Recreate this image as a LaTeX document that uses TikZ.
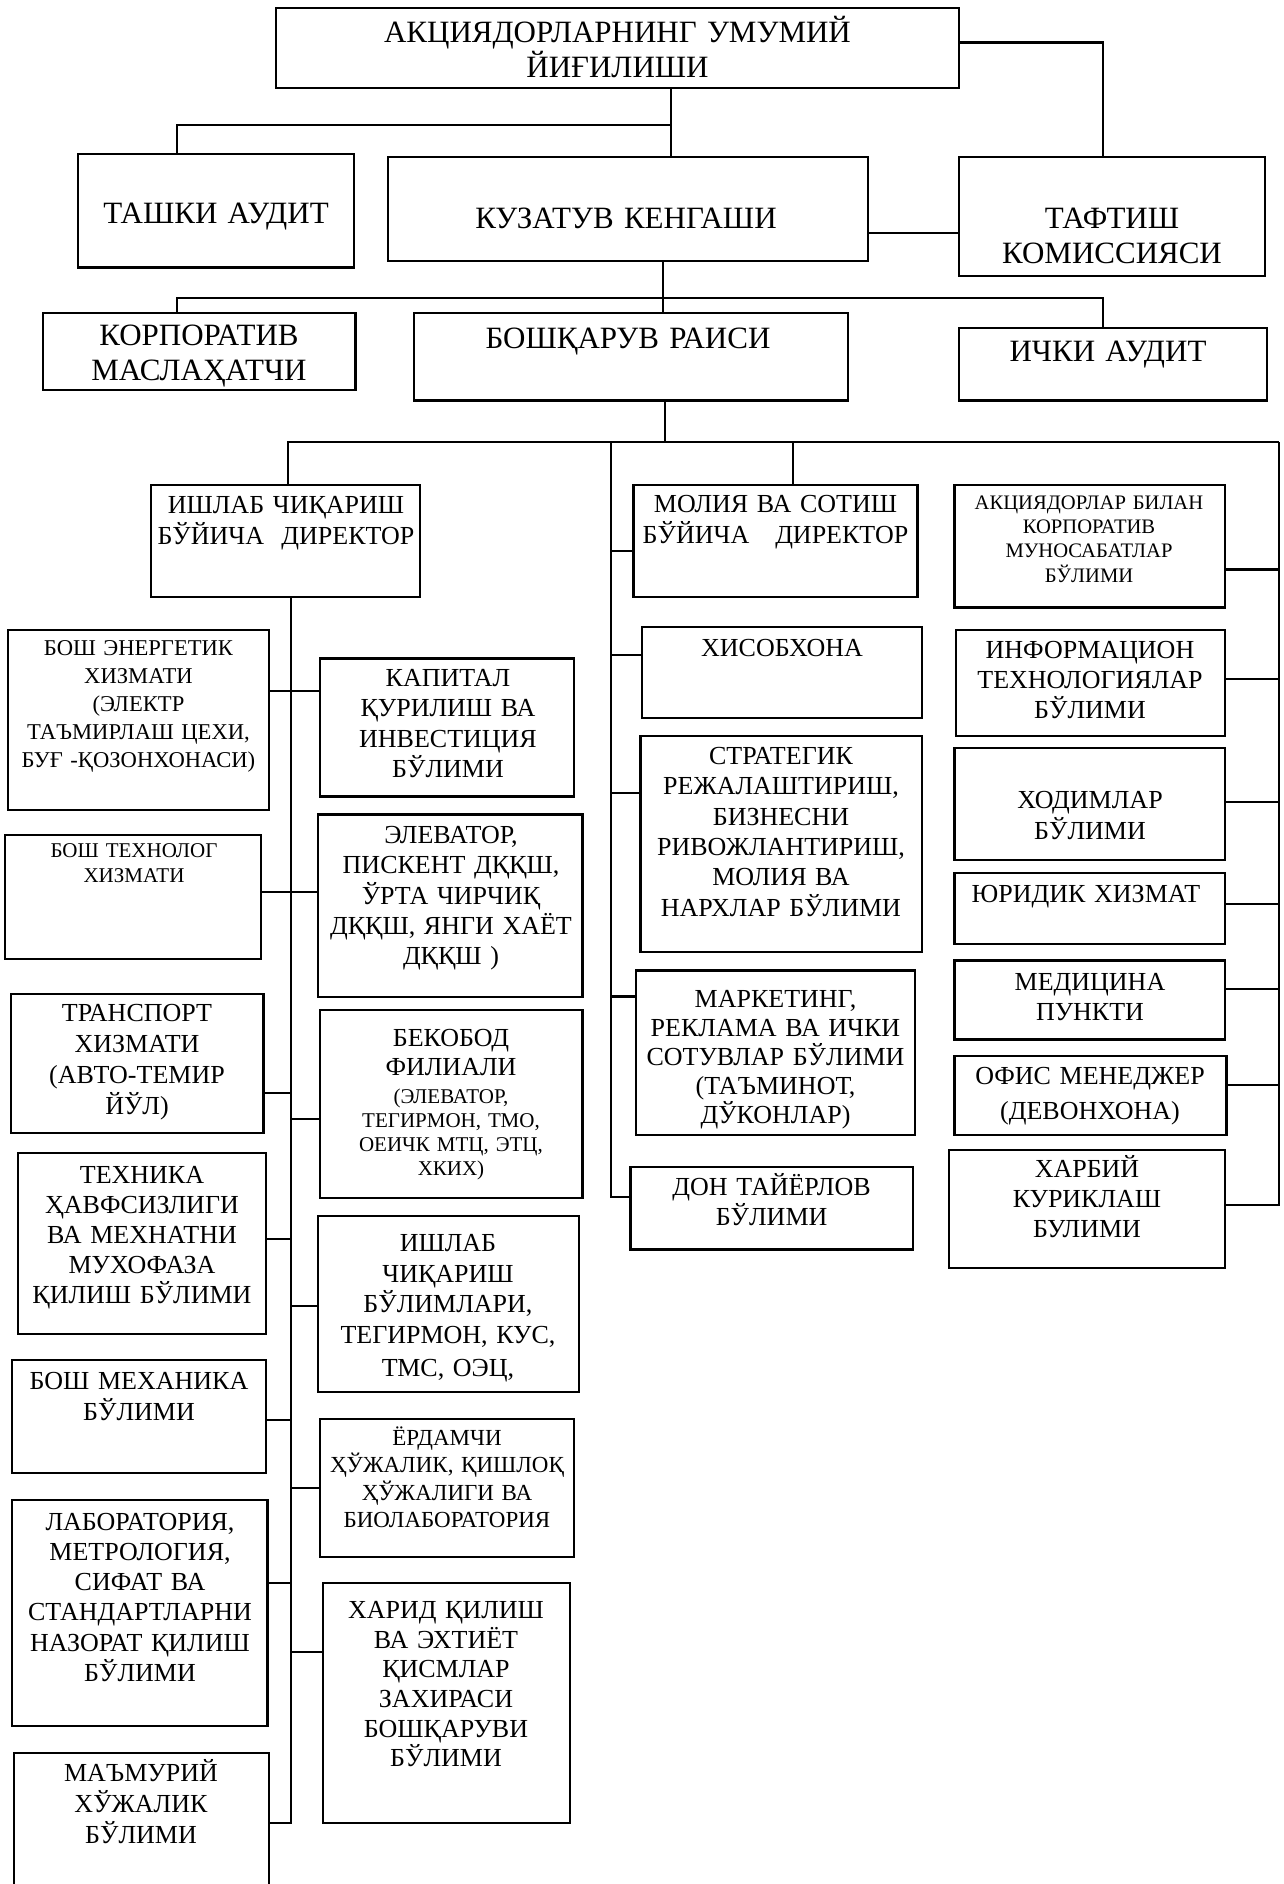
\documentclass[tikz,border=0pt]{standalone}
\usepackage{fontspec}
\setmainfont{Liberation Serif}
\usetikzlibrary{fit}
\tikzset{
  box/.style={draw, line width=1.2pt, inner sep=0pt},
  ln/.style={line width=1.1pt},
  lbl/.style={text width=300pt, align=center, inner sep=0pt, anchor=base},
  fs/.style 2 args={font=\fontsize{#1}{#2}\selectfont},
}
\begin{document}
\begin{tikzpicture}[x=0.5pt,y=-0.5pt]
\useasboundingbox (0,0) rectangle (1284,1884);
\clip (0,0) rectangle (1284,1884);
\fill[white] (0,0) rectangle (1284,1884);

% ---------- top levels ----------
\node[box, fit={(276,8)(959,88)}] (top) {};
\node[lbl, fs={15.5}{17.5}] at (617.5,42.7) {АКЦИЯДОРЛАРНИНГ УМУМИЙ\\ЙИҒИЛИШИ};
\node[box, fit={(78,154)(354,267.5)}] (tashki) {};
\node[lbl, fs={15.5}{17.5}] at (216,223.2) {ТАШКИ АУДИТ};
\node[box, fit={(388,157)(868,261)}] (kuzatuv) {};
\node[lbl, fs={15.5}{17.5}] at (626,228.2) {КУЗАТУВ КЕНГАШИ};
\node[box, fit={(959,157)(1265,276)}] (taftish) {};
\node[lbl, fs={15.5}{17.5}] at (1112,228.2) {ТАФТИШ\\КОМИССИЯСИ};
\node[box, fit={(43,313)(355.5,390)}] (korp) {};
\node[lbl, fs={15.5}{17.5}] at (199,345.2) {КОРПОРАТИВ\\МАСЛАҲАТЧИ};
\node[box, fit={(414,313)(848,400.6)}] (boshqaruv) {};
\node[lbl, fs={15.5}{17.5}] at (628,348.2) {БОШҚАРУВ РАИСИ};
\node[box, fit={(959,328)(1267,400.6)}] (ichki) {};
\node[lbl, fs={15.5}{17.5}] at (1108,361.2) {ИЧКИ АУДИТ};

% ---------- left column ----------
\node[box, fit={(151,485)(420,597)}] (ishlab) {};
\node[lbl, fs={13}{15.35}] at (286,513.6) {ИШЛАБ ЧИҚАРИШ\\БЎЙИЧА\ \ ДИРЕКТОР};
\node[box, fit={(8,630)(269,810)}] (energ) {};
\node[lbl, fs={11.3}{14}] at (138.5,655.5) {БОШ ЭНЕРГЕТИК\\ХИЗМАТИ\\(ЭЛЕКТР\\ТАЪМИРЛАШ ЦЕХИ,\\БУҒ -ҚОЗОНХОНАСИ)};
\node[box, fit={(320,658.5)(574,796.6)}] (kapital) {};
\node[lbl, fs={13}{15.15}] at (448,686.6) {КАПИТАЛ\\ҚУРИЛИШ ВА\\ИНВЕСТИЦИЯ\\БЎЛИМИ};
\node[box, fit={(5,835)(261,959)}] (texnolog) {};
\node[lbl, fs={10.5}{12.5}] at (134,857.9) {БОШ ТЕХНОЛОГ\\ХИЗМАТИ};
\node[box, fit={(318,814.5)(582.5,996.7)}] (elevator) {};
\node[lbl, fs={13}{15.1}] at (451,843.6) {ЭЛЕВАТОР,\\ПИСКЕНТ ДҚҚШ,\\ЎРТА ЧИРЧИҚ\\ДҚҚШ, ЯНГИ ХАЁТ\\ДҚҚШ )};
\node[box, fit={(11,994)(263.4,1132.7)}] (transport) {};
\node[lbl, fs={13}{15.5}] at (137,1021.6) {ТРАНСПОРТ\\ХИЗМАТИ\\(АВТО-ТЕМИР\\ЙЎЛ)};
\node[box, fit={(320,1010)(582.5,1197.7)}] (bekobod) {};
\node[lbl, fs={13}{14.5}] at (451,1046.6) {БЕКОБОД\\ФИЛИАЛИ};
\node[lbl, fs={10.5}{12}] at (451,1103.6) {(ЭЛЕВАТОР,\\ТЕГИРМОН, ТМО,\\ОЕИЧК МТЦ, ЭТЦ,\\ХКИХ)};
\node[box, fit={(18,1153)(266,1334)}] (texnika) {};
\node[lbl, fs={13}{15}] at (142,1183.6) {ТЕХНИКА\\ҲАВФСИЗЛИГИ\\ВА МЕХНАТНИ\\МУХОФАЗА\\ҚИЛИШ БЎЛИМИ};
\node[box, fit={(318,1216)(579,1392)}] (ishchiq) {};
\node[lbl, fs={13}{15.25}] at (448,1251.6) {ИШЛАБ\\ЧИҚАРИШ\\БЎЛИМЛАРИ,\\ТЕГИРМОН, КУС,\\[1.5pt]ТМС, ОЭЦ,};
\node[box, fit={(12,1360)(266,1472.7)}] (mexanika) {};
\node[lbl, fs={13}{15.5}] at (139,1389.3) {БОШ МЕХАНИКА\\БЎЛИМИ};
\node[box, fit={(320,1419)(574,1556.7)}] (yordamchi) {};
\node[lbl, fs={11.5}{13.65}] at (447,1445.6) {ЁРДАМЧИ\\ҲЎЖАЛИК, ҚИШЛОҚ\\ҲЎЖАЛИГИ ВА\\БИОЛАБОРАТОРИЯ};
\node[box, fit={(12,1500)(267.5,1725.7)}] (lab) {};
\node[lbl, fs={13}{15.1}] at (140,1530.3) {ЛАБОРАТОРИЯ,\\МЕТРОЛОГИЯ,\\СИФАТ ВА\\СТАНДАРТЛАРНИ\\НАЗОРАТ ҚИЛИШ\\БЎЛИМИ};
\node[box, fit={(323,1583)(570,1823)}] (xarid) {};
\node[lbl, fs={13}{14.8}] at (446,1618.6) {ХАРИД ҚИЛИШ\\ВА ЭХТИЁТ\\ҚИСМЛАР\\ЗАХИРАСИ\\БОШҚАРУВИ\\БЎЛИМИ};
\node[box, fit={(14,1753)(269,1930)}] (maamuriy) {};
\node[lbl, fs={13}{15.6}] at (141,1781) {МАЪМУРИЙ\\ХЎЖАЛИК\\БЎЛИМИ};

% ---------- middle column ----------
\node[box, fit={(633.6,485)(917.5,597)}] (moliya) {};
\node[lbl, fs={13}{15.3}] at (775.5,512.6) {МОЛИЯ ВА СОТИШ\\БЎЙИЧА\ \ \ ДИРЕКТОР};
\node[box, fit={(642,627)(922,718)}] (xisob) {};
\node[lbl, fs={13}{15}] at (782,656.6) {ХИСОБХОНА};
\node[box, fit={(640.6,736)(922,952)}] (strat) {};
\node[lbl, fs={13}{15.15}] at (781,764.6) {СТРАТЕГИК\\РЕЖАЛАШТИРИШ,\\БИЗНЕСНИ\\РИВОЖЛАНТИРИШ,\\МОЛИЯ ВА\\НАРХЛАР БЎЛИМИ};
\node[box, fit={(636,970.5)(915,1135)}] (marketing) {};
\node[lbl, fs={13}{14.5}] at (775.5,1007.6) {МАРКЕТИНГ,\\РЕКЛАМА ВА ИЧКИ\\СОТУВЛАР БЎЛИМИ\\(ТАЪМИНОТ,\\ДЎКОНЛАР)};
\node[box, fit={(630.6,1167)(912.7,1249.4)}] (don) {};
\node[lbl, fs={13}{15}] at (771.6,1195.6) {ДОН ТАЙЁРЛОВ\\БЎЛИМИ};

% ---------- right column ----------
\node[box, fit={(954.6,485)(1225,607.6)}] (aksiya) {};
\node[lbl, fs={10.3}{12.1}] at (1089,509.4) {АКЦИЯДОРЛАР БИЛАН\\КОРПОРАТИВ\\МУНОСАБАТЛАР\\БЎЛИМИ};
\node[box, fit={(956,630)(1225,736)}] (inform) {};
\node[lbl, fs={13}{15.1}] at (1090,658.2) {ИНФОРМАЦИОН\\ТЕХНОЛОГИЯЛАР\\БЎЛИМИ};
\node[box, fit={(954.6,748)(1225,860)}] (xodim) {};
\node[lbl, fs={13}{15.25}] at (1090,808.6) {ХОДИМЛАР\\БЎЛИМИ};
\node[box, fit={(954.6,873)(1225,944)}] (yurid) {};
\node[lbl, fs={13}{15}] at (1086,902.1) {ЮРИДИК ХИЗМАТ};
\node[box, fit={(954.6,960.6)(1225,1039.6)}] (medic) {};
\node[lbl, fs={13}{15}] at (1090,990.1) {МЕДИЦИНА\\ПУНКТИ};
\node[box, fit={(954.6,1056)(1226.6,1135)}] (ofis) {};
\node[lbl, fs={13}{17.5}] at (1090,1084.6) {ОФИС МЕНЕДЖЕР\\(ДЕВОНХОНА)};
\node[box, fit={(949,1150)(1225,1267.7)}] (xarbiy) {};
\node[lbl, fs={13}{15}] at (1087,1177.6) {ХАРБИЙ\\КУРИКЛАШ\\БУЛИМИ};

% ---------- connectors: top ----------
\coordinate (a1) at (671,125);
\coordinate (a1l) at (177,125);
\draw[ln] (a1 |- top.south) -- (a1 |- kuzatuv.north);
\draw[ln] (a1) -- (a1l) -- (a1l |- tashki.north);
\coordinate (a2) at (1103,42.6);
\draw[ln] (a2 -| top.east) -- (a2) -- (a2 |- taftish.north);
\coordinate (a3) at (913,233);
\draw[ln] (a3 -| kuzatuv.east) -- (a3 -| taftish.west);
\coordinate (b1) at (663,298);
\coordinate (b1l) at (177,298);
\coordinate (b1r) at (1103,298);
\draw[ln] (b1 |- kuzatuv.south) -- (b1 |- boshqaruv.north);
\draw[ln] (b1l |- korp.north) -- (b1l) -- (b1r) -- (b1r |- ichki.north);

% ---------- connectors: level 3 ----------
\coordinate (c0) at (665,442);
\coordinate (cl) at (288,442);
\coordinate (cm) at (611,442);
\coordinate (cmo) at (793,442);
\coordinate (cr) at (1279,442);
\draw[ln] (c0 |- boshqaruv.south) -- (c0);
\draw[ln] (cl |- ishlab.north) -- (cl) -- (cr);
\draw[ln] (cmo) -- (cmo |- moliya.north);

% middle spine
\coordinate (dm) at (611,1196.6);
\draw[ln] (cm) -- (dm) -- (dm -| don.west);
\coordinate (m1) at (611,551);
\coordinate (m2) at (611,655);
\coordinate (m3) at (611,792.7);
\coordinate (m4) at (611,996.4);
\draw[ln] (m1) -- (m1 -| moliya.west);
\draw[ln] (m2) -- (m2 -| xisob.west);
\draw[ln] (m3) -- (m3 -| strat.west);
\draw[ln] (m4) -- (m4 -| marketing.west);

% right spine
\coordinate (dr) at (1279,1204.6);
\draw[ln] (cr) -- (dr) -- (dr -| xarbiy.east);
\coordinate (r1) at (1279,569.5);
\coordinate (r2) at (1279,679);
\coordinate (r3) at (1279,801.6);
\coordinate (r4) at (1279,904);
\coordinate (r5) at (1279,989);
\coordinate (r6) at (1279,1085);
\draw[ln] (r1) -- (r1 -| aksiya.east);
\draw[ln] (r2) -- (r2 -| inform.east);
\draw[ln] (r3) -- (r3 -| xodim.east);
\draw[ln] (r4) -- (r4 -| yurid.east);
\draw[ln] (r5) -- (r5 -| medic.east);
\draw[ln] (r6) -- (r6 -| ofis.east);

% left spine
\coordinate (sl) at (291,1823);
\draw[ln] (sl |- ishlab.south) -- (sl) -- (sl -| maamuriy.east);
\coordinate (l1) at (291,690.6);
\coordinate (l2) at (291,891.7);
\coordinate (l3) at (291,1092.7);
\coordinate (l4) at (291,1119);
\coordinate (l5) at (291,1239);
\coordinate (l6) at (291,1306);
\coordinate (l7) at (291,1420);
\coordinate (l8) at (291,1488);
\coordinate (l9) at (291,1583);
\coordinate (l10) at (291,1651.7);
\draw[ln] (l1 -| energ.east) -- (l1 -| kapital.west);
\draw[ln] (l2 -| texnolog.east) -- (l2 -| elevator.west);
\draw[ln] (l3 -| transport.east) -- (l3);
\draw[ln] (l4) -- (l4 -| bekobod.west);
\draw[ln] (l5 -| texnika.east) -- (l5);
\draw[ln] (l6) -- (l6 -| ishchiq.west);
\draw[ln] (l7 -| mexanika.east) -- (l7);
\draw[ln] (l8) -- (l8 -| yordamchi.west);
\draw[ln] (l9 -| lab.east) -- (l9);
\draw[ln] (l10) -- (l10 -| xarid.west);
\end{tikzpicture}
\end{document}
